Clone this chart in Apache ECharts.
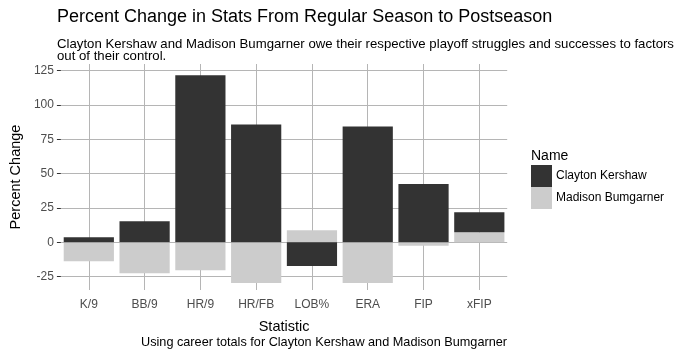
<!DOCTYPE html>
<html><head><meta charset="utf-8">
<script src="https://cdn.jsdelivr.net/npm/echarts@6/dist/echarts.min.js"></script>
<style>html,body{margin:0;padding:0;background:#fff}#c{width:683px;height:357px}</style>
</head><body><div id="c"></div>
<script>
const categories = ['K/9','BB/9','HR/9','HR/FB','LOB%','ERA','FIP','xFIP'];
const kershaw = [3.7, 15.4, 121.7, 85.8, -17.3, 84.3, 42.5, 14.7];
const bumgarner = [-13.7, -22.5, -20.3, -29.6, 8.8, -29.6, -2.4, 7.3];
const yTicks = [-25, 0, 25, 50, 75, 100, 125];
const FONT = 'Liberation Sans, Arial, sans-serif';
const gridColor = '#b5b5b5';

const hLines = yTicks.map(v => ({yAxis: v}));
const vLines = categories.map(c => ({xAxis: c}));

const chart = echarts.init(document.getElementById('c'), null, {renderer: 'canvas'});
chart.setOption({
  animation: false,
  backgroundColor: '#fff',
  textStyle: {fontFamily: FONT},
  title: [
    {text: 'Percent Change in Stats From Regular Season to Postseason', left: 52, top: 3,
     textStyle: {fontFamily: FONT, fontSize: 18, fontWeight: 'normal', color: '#000'}},
    {text: 'Clayton Kershaw and Madison Bumgarner owe their respective playoff struggles and successes to factors\nout of their control.',
     left: 52, top: 33,
     textStyle: {fontFamily: FONT, fontSize: 13.2, fontWeight: 'normal', color: '#000', lineHeight: 12.5}},
    {text: 'Using career totals for Clayton Kershaw and Madison Bumgarner', right: 171, top: 331,
     textStyle: {fontFamily: FONT, fontSize: 12.7, fontWeight: 'normal', color: '#000'}},
    {text: 'Name', left: 526, top: 144,
     textStyle: {fontFamily: FONT, fontSize: 14, fontWeight: 'normal', color: '#000'}}
  ],
  legend: {
    data: ['Clayton Kershaw', 'Madison Bumgarner'],
    orient: 'vertical', left: 531, top: 165,
    icon: 'rect', itemWidth: 21, itemHeight: 22, itemGap: 0,
    textStyle: {fontFamily: FONT, fontSize: 12, color: '#000', padding: [0,0,0,-1]},
    padding: 0
  },
  grid: {left: 57.4, right: 175.8, top: 64, bottom: 67, containLabel: false},
  xAxis: {
    type: 'category', data: categories,
    name: 'Statistic', nameLocation: 'middle', nameGap: 29,
    nameTextStyle: {fontFamily: FONT, fontSize: 14.5, color: '#000'},
    axisLine: {show: false},
    axisTick: {show: true, alignWithLabel: true, length: 4, lineStyle: {color: '#333'}},
    axisLabel: {fontFamily: FONT, fontSize: 12, color: '#4d4d4d', margin: 9},
    splitLine: {show: false}
  },
  yAxis: {
    type: 'value', min: -34.7, max: 129.9,
    name: 'Percent Change', nameLocation: 'middle', nameGap: 36, nameRotate: 90,
    nameTextStyle: {fontFamily: FONT, fontSize: 14.5, color: '#000'},
    axisLine: {show: false},
    axisTick: {show: true, length: 4, lineStyle: {color: '#333'}, customValues: yTicks},
    axisLabel: {fontFamily: FONT, fontSize: 12, color: '#4d4d4d', margin: 7, customValues: yTicks},
    splitLine: {show: false}
  },
  series: [
    {
      name: 'Madison Bumgarner', type: 'bar', stack: 'a', data: bumgarner,
      barWidth: '90%', itemStyle: {color: '#cccccc'}, z: 3,
      markLine: {
        silent: true, symbol: 'none', z: 1, animation: false,
        label: {show: false},
        lineStyle: {color: gridColor, width: 1, type: 'solid'},
        data: hLines.concat(vLines)
      }
    },
    {
      name: 'Clayton Kershaw', type: 'bar', stack: 'a', data: kershaw,
      barWidth: '90%', itemStyle: {color: '#333333'}, z: 3
    }
  ]
});
</script></body></html>
